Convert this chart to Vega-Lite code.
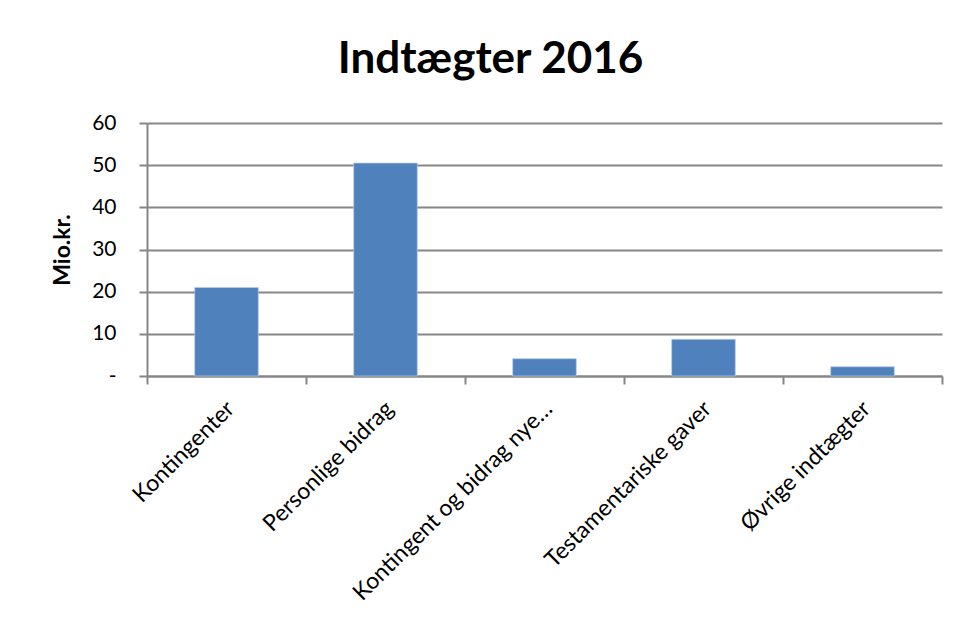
{
  "$schema": "https://vega.github.io/schema/vega-lite/v6.json",
  "autosize": {"type": "none"},
  "padding": {"left": 147, "top": 123, "right": 17, "bottom": 242},
  "width": 795,
  "height": 253,
  "background": "white",
  "title": {
    "text": "Indtægter 2016",
    "font": "Lato",
    "fontSize": 44,
    "fontWeight": "bold",
    "color": "#000000",
    "anchor": "middle",
    "dx": -54,
    "offset": 30
  },
  "data": {
    "values": [
      {"kategori": "Kontingenter", "beloeb": 21.0},
      {"kategori": "Personlige bidrag", "beloeb": 50.5},
      {"kategori": "Kontingent og bidrag nye…", "beloeb": 4.1},
      {"kategori": "Testamentariske gaver", "beloeb": 8.7},
      {"kategori": "Øvrige indtægter", "beloeb": 2.2}
    ]
  },
  "mark": {"type": "bar", "color": "#4F81BD", "stroke": "#B9CDE5", "strokeWidth": 0.7, "width": {"band": 0.4}},
  "encoding": {
    "x": {
      "field": "kategori",
      "type": "nominal",
      "sort": null,
      "scale": {"paddingInner": 0, "paddingOuter": 0},
      "axis": {
        "title": null,
        "labelAngle": -45,
        "labelFont": "Lato",
        "labelFontSize": 23,
        "labelColor": "#000000",
        "labelPadding": 13,
        "labelOffset": -4,
        "tickBand": "extent",
        "tickSize": 8,
        "tickColor": "#868686",
        "tickWidth": 2,
        "domainColor": "#868686",
        "domainWidth": 2,
        "grid": false,
        "labelLimit": 400
      }
    },
    "y": {
      "field": "beloeb",
      "type": "quantitative",
      "scale": {"domain": [0, 60]},
      "axis": {
        "title": "Mio.kr.",
        "titleFont": "Lato",
        "titleFontSize": 23,
        "titleFontWeight": "bold",
        "titleColor": "#000000",
        "titleX": -85,
        "titleY": 126.5,
        "titleAngle": -90,
        "titleAlign": "center",
        "titleBaseline": "middle",
        "values": [0, 10, 20, 30, 40, 50, 60],
        "labelExpr": "datum.value == 0 ? '-\u00a0\u00a0\u00a0' : datum.label",
        "labelFont": "Lato",
        "labelFontSize": 21,
        "labelColor": "#000000",
        "labelPadding": 23,
        "tickSize": 8,
        "tickColor": "#868686",
        "tickWidth": 2,
        "domainColor": "#868686",
        "domainWidth": 2,
        "grid": true,
        "gridColor": "#868686",
        "gridWidth": 2
      }
    }
  },
  "config": {"view": {"stroke": null}}
}
